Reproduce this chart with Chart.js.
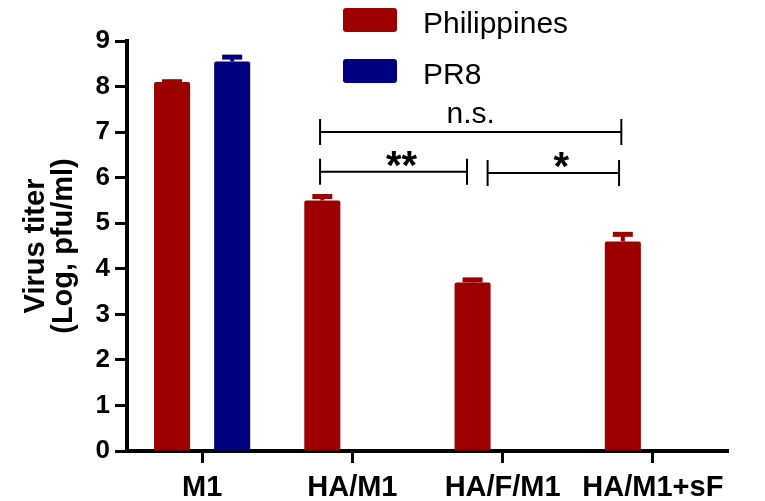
<!DOCTYPE html>
<html lang="en">
<head>
    <meta charset="UTF-8">
    <title>Virus titer</title>
    <style>
        body {
            margin: 0;
            background: #fff;
        }

        #wrap {
            width: 765px;
            height: 501px;
        }
    </style>
    <script src="https://cdn.jsdelivr.net/npm/chart.js"></script>
</head>
<body>
    <div id="wrap"><canvas id="titerChart" width="765" height="501"></canvas></div>

    <script>
        // data
        const categories = ['M1', 'HA/M1', 'HA/F/M1', 'HA/M1+sF'];
        const philippines = [8.1, 5.5, 3.7, 4.6];
        const philippinesErr = [0.05, 0.13, 0.1, 0.2];
        const pr8 = [8.55, null, null, null];
        const pr8Err = [0.14, null, null, null];
        const yTicks = [0, 1, 2, 3, 4, 5, 6, 7, 8, 9];

        // significance brackets, ends given in category units
        const bracketFrom = [0.785, 0.785, 1.9];
        const bracketTo = [2.79, 1.763, 2.775];
        const bracketY = [7.0, 6.13, 6.1];
        const bracketLabel = ['n.s.', '**', '*'];

        const red = '#9e0000';
        const blue = '#000080';
        const font = '"Liberation Sans", Arial, sans-serif';

        const errorBars = {
            id: 'errorBars',
            afterDatasetsDraw(chart) {
                const ctx = chart.ctx;
                const y = chart.scales.y;
                const errs = [philippinesErr, pr8Err];
                chart.data.datasets.forEach((ds, i) => {
                    const meta = chart.getDatasetMeta(i);
                    meta.data.forEach((bar, j) => {
                        const v = ds.data[j];
                        const e = errs[i][j];
                        if (v == null || e == null) return;
                        const top = y.getPixelForValue(v + e);
                        ctx.save();
                        ctx.strokeStyle = ds.backgroundColor;
                        ctx.lineWidth = 4;
                        ctx.beginPath();
                        ctx.moveTo(bar.x, y.getPixelForValue(v));
                        ctx.lineTo(bar.x, top);
                        ctx.stroke();
                        ctx.lineWidth = 5;
                        ctx.beginPath();
                        ctx.moveTo(bar.x - 10, top + 2);
                        ctx.lineTo(bar.x + 10, top + 2);
                        ctx.stroke();
                        ctx.restore();
                    });
                });
            }
        };

        const annotations = {
            id: 'annotations',
            afterDraw(chart) {
                const ctx = chart.ctx;
                const x = chart.scales.x;
                const y = chart.scales.y;
                ctx.save();
                ctx.strokeStyle = '#000';
                ctx.fillStyle = '#000';
                ctx.lineWidth = 2;
                bracketLabel.forEach((label, i) => {
                    const x1 = x.getPixelForValue(bracketFrom[i]);
                    const x2 = x.getPixelForValue(bracketTo[i]);
                    const yy = y.getPixelForValue(bracketY[i]);
                    ctx.beginPath();
                    ctx.moveTo(x1, yy);
                    ctx.lineTo(x2, yy);
                    ctx.moveTo(x1, yy - 13);
                    ctx.lineTo(x1, yy + 13);
                    ctx.moveTo(x2, yy - 13);
                    ctx.lineTo(x2, yy + 13);
                    ctx.stroke();
                    ctx.textAlign = 'center';
                    ctx.textBaseline = 'alphabetic';
                    if (label === 'n.s.') {
                        ctx.font = '30px ' + font;
                        ctx.fillText(label, (x1 + x2) / 2, yy - 9);
                    } else {
                        ctx.font = 'bold 40px ' + font;
                        ctx.fillText(label, (x1 + x2) / 2 + 8, yy + 7);
                    }
                });

                // legend, stacked at the top
                chart.data.datasets.forEach((ds, i) => {
                    const top = 8 + i * 51;
                    ctx.fillStyle = ds.backgroundColor;
                    ctx.beginPath();
                    ctx.roundRect(343, top, 54, 24, 3);
                    ctx.fill();
                    ctx.fillStyle = '#000';
                    ctx.font = '30px ' + font;
                    ctx.textAlign = 'left';
                    ctx.fillText(ds.label, 423, top + 25);
                });
                ctx.restore();
            }
        };

        new Chart(document.getElementById('titerChart'), {
            type: 'bar',
            data: {
                labels: categories,
                datasets: [{
                    label: 'Philippines',
                    data: philippines,
                    backgroundColor: red,
                    borderRadius: 2,
                    borderSkipped: 'bottom'
                }, {
                    label: 'PR8',
                    data: pr8,
                    backgroundColor: blue,
                    borderRadius: 2,
                    borderSkipped: 'bottom'
                }]
            },
            options: {
                responsive: false,
                animation: false,
                categoryPercentage: 0.8,
                barPercentage: 0.6,
                layout: {
                    padding: { top: 41, right: 37, bottom: 0, left: 0 }
                },
                plugins: {
                    legend: { display: false },
                    tooltip: { enabled: false }
                },
                scales: {
                    x: {
                        afterFit: s => { s.height = 50; },
                        grid: {
                            offset: false,
                            drawOnChartArea: false,
                            tickLength: 12,
                            tickWidth: 3,
                            tickColor: '#000'
                        },
                        border: { color: '#000', width: 4 },
                        ticks: {
                            color: '#000',
                            padding: 8,
                            maxRotation: 0,
                            font: { family: font, size: 29, weight: 'bold' }
                        }
                    },
                    y: {
                        min: 0,
                        max: 9,
                        afterFit: s => { s.width = 127; },
                        afterBuildTicks: s => { s.ticks = yTicks.map(v => ({ value: v })); },
                        grid: {
                            drawOnChartArea: false,
                            tickLength: 12,
                            tickWidth: 3,
                            tickColor: '#000'
                        },
                        border: { color: '#000', width: 4 },
                        ticks: {
                            color: '#000',
                            padding: 5,
                            font: { family: font, size: 26, weight: 'bold' }
                        },
                        title: {
                            display: true,
                            text: ['Virus titer', '(Log, pfu/ml)'],
                            color: '#000',
                            padding: { top: 22 },
                            font: { family: font, size: 29, weight: 'bold', lineHeight: 0.97 }
                        }
                    }
                }
            },
            plugins: [errorBars, annotations]
        });
    </script>
</body>
</html>
